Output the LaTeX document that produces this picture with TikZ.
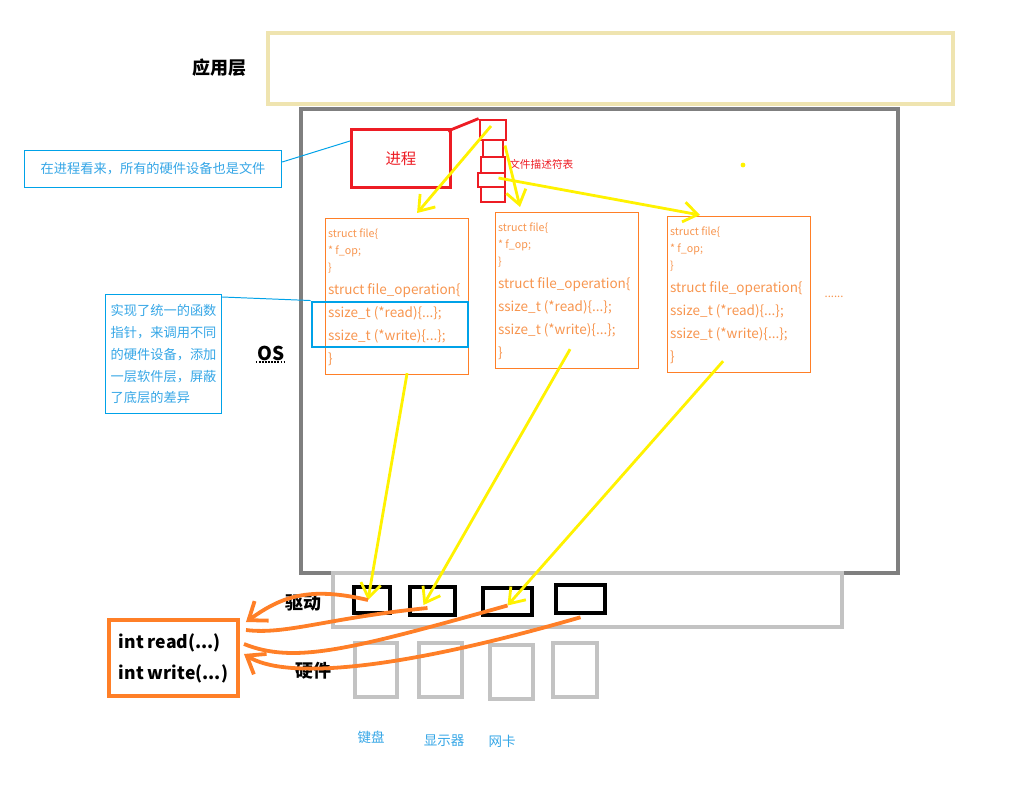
\documentclass[tikz,border=0pt]{standalone}
\usepackage{fontspec}
\setmainfont{Noto Sans CJK SC}
\usepackage{xcolor}
\definecolor{apptan}{HTML}{EFE4B0}
\definecolor{osgray}{HTML}{7F7F7F}
\definecolor{lightgray}{HTML}{C3C3C3}
\definecolor{procred}{HTML}{ED1C24}
\definecolor{fopsorange}{HTML}{FF7F27}
\definecolor{codeorange}{HTML}{F7954F}
\definecolor{noteblue}{HTML}{00A2E8}
\definecolor{notetext}{HTML}{35A6E6}
\definecolor{ptryellow}{HTML}{FFF200}
\usetikzlibrary{arrows.meta, positioning, fit, calc}
\tikzset{
  appbox/.style  ={rectangle, draw=apptan, line width=2.8pt, inner sep=0pt},
  osbox/.style   ={rectangle, draw=osgray, line width=2.8pt, inner sep=0pt},
  procbox/.style ={rectangle, draw=procred, line width=2.1pt, text=procred, font=\fontsize{11}{13}\selectfont},
  fdcell/.style  ={rectangle, draw=procred, line width=2pt, inner sep=0pt},
  fdlbl/.style   ={text=procred, font=\fontsize{7.6}{9}\selectfont, inner sep=0pt},
  notebox/.style ={rectangle, draw=noteblue, line width=0.8pt, text=notetext, font=\fontsize{9.4}{15.6}\selectfont},
  noteline/.style={draw=noteblue, line width=0.7pt},
  hlbox/.style   ={rectangle, draw=noteblue, line width=2.1pt, inner sep=0pt},
  fopsbox/.style ={rectangle, draw=fopsorange, line width=0.8pt, minimum width=3.575cm, minimum height=3.9cm, inner sep=0pt},
  codesm/.style  ={text=codeorange, font=\fontsize{7.6}{12}\selectfont, align=left, inner sep=2pt},
  codelg/.style  ={text=codeorange, font=\fontsize{9.6}{16.4}\selectfont, align=left, inner sep=2pt},
  ptr/.style     ={draw=ptryellow, line width=2pt, -{Straight Barb[length=3.5mm, width=5mm]}},
  drvlayer/.style={rectangle, draw=lightgray, line width=3pt, inner sep=0pt},
  drvbox/.style  ={rectangle, draw=black, line width=3.2pt, inner sep=0pt},
  hwbox/.style   ={rectangle, draw=lightgray, line width=3pt, inner sep=0pt},
  layerlbl/.style={font=\bfseries\fontsize{12.8}{14}\selectfont},
  devlbl/.style  ={text=notetext, font=\fontsize{9.6}{11}\selectfont},
  iobox/.style   ={rectangle, draw=fopsorange, line width=2.8pt, align=left, font=\bfseries\fontsize{12.5}{22}\selectfont},
  ret/.style     ={draw=fopsorange, line width=2.7pt},
  retarr/.style  ={ret, -{Straight Barb[length=4mm, width=6mm]}},
}
\begin{document}
\begin{tikzpicture}[x=0.025cm, y=-0.025cm]
  \useasboundingbox (0,0) rectangle (1029,801);
  % layers
  \node[appbox, fit={(268,33) (953,104)}] (app) {};
  \node[layerlbl] (applbl) at (219,68) {应用层};
  \node[osbox, fit={(301,109) (898,573)}] (os) {};
  \node[layerlbl, font=\bfseries\fontsize{13.5}{15}\selectfont, inner sep=1pt] (oslbl) at (271,353) {OS};
  \draw[densely dotted, line width=1.2pt] (oslbl.south west) -- (oslbl.south east);
  % process and fd table
  \node[procbox, minimum width=2.475cm, minimum height=1.45cm, anchor=north west] (proc) at (350,128) {进程\hspace{8pt}};
  \foreach \i/\xa/\ya/\xb/\yb in {1/480/120/506/140, 2/483/140/503/157, 3/481/157/505/173, 4/478/173/505/187, 5/481/187/505/202}
    \node[fdcell, fit={(\xa,\ya) (\xb,\yb)}] (fd\i) {};
  \node[fdlbl, anchor=west] (fdlbl) at (509,164) {文件描述符表};
  \draw[procred, line width=2pt] ($(proc.north east)+(-4,3)$) -- (fd1.north west);
  \node[circle, fill=ptryellow, inner sep=1.2pt] (dot) at (743,165) {};
  % notes
  \node[notebox, minimum width=6.425cm, minimum height=0.925cm, anchor=north west] (note1) at (24,150) {在进程看来，所有的硬件设备也是文件\hspace{6pt}};
  \draw[noteline] ($(note1.north east)+(0,12)$) -- ($(proc.north west)+(0,13)$);
  \node[notebox, align=left, minimum width=2.9cm, minimum height=2.975cm, anchor=north west] (note2) at (105,294)
    {实现了统一的函数\\指针，来调用不同\\的硬件设备，添加\\一层软件层，屏蔽\\了底层的差异};
  % struct file cards
  \foreach \n/\x/\y in {fa/325/218, fb/495/212, fc/667/216}{
    \node[fopsbox, anchor=north west] (\n) at (\x,\y) {};
    \node[codesm, anchor=north west] (\n-file) at ($(\n.north west)+(0,8)$) {struct file\{\\* f\_op;\\\}};
    \node[codelg, anchor=north west] (\n-ops) at ($(\n.north west)+(0,62)$)
      {struct file\_operation\{\\ssize\_t (*read)\{...\};\\ssize\_t (*write)\{...\};\\\}};
  }
  \node[codesm, font=\fontsize{8}{9}\selectfont] (more) at (834,297) {......};
  \node[hlbox, fit={(312,302) (468,347)}] (hl) {};
  \draw[noteline] ($(note2.north east)+(0,3)$) -- (hl.north west);
  % driver and hardware
  \node[drvlayer, fit={(333,573) (842,627)}] (drvlayer) {};
  \node[layerlbl] (drvlbl) at (303,603) {驱动};
  \foreach \i/\xa/\ya/\xb/\yb in {1/354/587/390/613, 2/410/587/455/615, 3/483/588/532/615, 4/556/585/605/613}
    \node[drvbox, fit={(\xa,\ya) (\xb,\yb)}] (drv\i) {};
  \foreach \i/\xa/\ya/\xb/\yb in {1/355/643/397/697, 2/419/643/462/697, 3/490/645/533/699, 4/553/643/597/697}
    \node[hwbox, fit={(\xa,\ya) (\xb,\yb)}] (hw\i) {};
  \node[layerlbl] (hwlbl) at (313,671) {硬件};
  \node[devlbl] (kbd) at (371,737) {键盘};
  \node[devlbl] (disp) at (444,741) {显示器};
  \node[devlbl] (nic) at (502,741) {网卡};
  % file descriptor pointers
  \draw[ptr] ($(fd1.center)+(-2,-4)$) -- ($(fa.north)+(20,-5)$);
  \draw[ptr] ($(fd2.center)+(12,-3)$) -- ($(fb.north west)+(25,-5)$);
  \draw[ptr] ($(fd4.center)+(7,-2)$) -- ($(fc.north west)+(33,-1)$);
  \draw[ptr] ($(fa.south)+(10,-2)$) -- ($(drv1.center)+(-4,0)$);
  \draw[ptr] ($(fb.south)+(3,-20)$) -- ($(drv2.center)+(-9,4)$);
  \draw[ptr] ($(fc.south)+(-16,-12)$) -- ($(drv3.center)+(0,4)$);
  % system calls
  \node[iobox, minimum width=3.225cm, minimum height=1.9cm, anchor=north west] (io) at (107,618) {int read(...)\\int write(...)};
  \draw[retarr] ($(drv1.center)+(-4,0)$) .. controls +(-60,-14) and +(35,-25) .. ($(io.north east)+(6,4)$);
  \draw[ret] ($(drv2.center)+(-5,7)$) .. controls +(-100,10) and +(40,5) .. ($(io.north east)+(6,12)$);
  \draw[ret] ($(drv3.center)+(0,4)$) .. controls +(-160,45) and +(50,20) .. ($(io.east)+(4,-14)$);
  \draw[retarr] ($(drv4.south)+(0,2)$) .. controls +(-190,55) and +(40,25) .. ($(io.east)+(4,-4)$);
\end{tikzpicture}
\end{document}
